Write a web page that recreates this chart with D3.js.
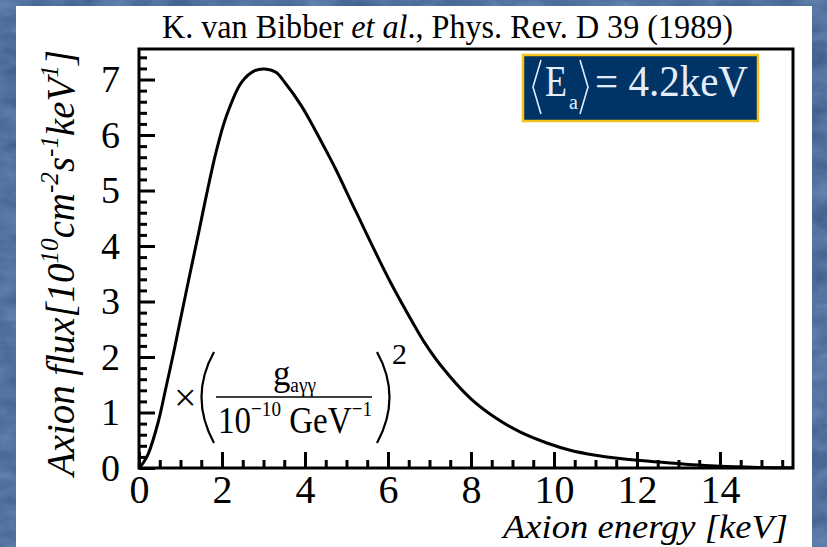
<!DOCTYPE html>
<html>
<head>
<meta charset="utf-8">
<script src="https://cdn.jsdelivr.net/npm/d3@7"></script>
<style>
  html, body { margin: 0; padding: 0; background: #54739e; }
  svg { display: block; }
</style>
</head>
<body>
<div id="chart"></div>
<script>
// Data (keV, 10^10 cm^-2 s^-1 keV^-1)
const energy = [0, 0.1, 0.22, 0.46, 0.65, 0.84, 1.0, 1.2, 1.46, 1.62, 1.86, 2.1, 2.47, 2.79, 3.03, 3.3, 3.51, 3.91, 4.23, 4.55, 4.75, 5.24, 6.05, 6.65, 6.89, 7.25, 7.98, 8.6, 9.18, 9.83, 10.39, 11.0, 11.59, 12.8, 14.0, 15.0, 15.76];
const flux = [0, 0.09, 0.25, 0.82, 1.45, 2.1, 2.68, 3.4, 4.32, 4.9, 5.7, 6.33, 6.95, 7.16, 7.19, 7.13, 6.95, 6.53, 6.11, 5.66, 5.37, 4.6, 3.36, 2.55, 2.25, 1.87, 1.26, 0.9, 0.65, 0.45, 0.32, 0.23, 0.17, 0.09, 0.03, 0.01, 0.005];
const xMajorTicks = [0, 2, 4, 6, 8, 10, 12, 14];
const yMajorTicks = [0, 1, 2, 3, 4, 5, 6, 7];

const width = 827;
const height = 547;
const frame = { left: 139, right: 793, top: 49, bottom: 468 };
const serif = '"Liberation Serif", "Times New Roman", serif';

const svg = d3
  .select('#chart')
  .append('svg')
  .attr('width', width)
  .attr('height', height);

// Slide background: textured blue
const defs = svg.append('defs');
const tex = defs
  .append('filter')
  .attr('id', 'tex')
  .attr('x', 0)
  .attr('y', 0)
  .attr('width', '100%')
  .attr('height', '100%')
  .attr('color-interpolation-filters', 'sRGB');
tex
  .append('feTurbulence')
  .attr('type', 'fractalNoise')
  .attr('baseFrequency', '0.03 0.06')
  .attr('numOctaves', 3)
  .attr('seed', 4);
tex
  .append('feColorMatrix')
  .attr('type', 'matrix')
  .attr('values', '0.2 0 0 0 0.22  0.2 0 0 0 0.35  0.2 0 0 0 0.52  0 0 0 0 1');

svg
  .append('rect')
  .attr('width', width)
  .attr('height', height)
  .attr('filter', 'url(#tex)');

// White panel
svg
  .append('rect')
  .attr('x', 16)
  .attr('y', 6)
  .attr('width', 796)
  .attr('height', height - 6)
  .attr('fill', '#ffffff');

// Scales
const x = d3.scaleLinear().domain([0, 15.76]).range([frame.left, frame.right]);
const y = d3.scaleLinear().domain([0, 7.55]).range([frame.bottom, frame.top]);

const xMinor = d3.range(0, 15.76, 0.5).filter((v) => v % 2 !== 0);
const yMinor = d3
  .range(0, 7.55, 0.2)
  .filter((v) => Math.abs(v - Math.round(v)) > 1e-6);

const styleAxis = (g) => {
  g.select('.domain').remove();
  g.selectAll('line').attr('stroke', '#000').attr('stroke-width', 3);
  g.selectAll('text')
    .attr('fill', '#000')
    .style('font-family', serif);
};

// X axis (ticks point inward)
svg
  .append('g')
  .attr('transform', `translate(0,${frame.bottom})`)
  .call(d3.axisBottom(x).tickValues(xMinor).tickSize(-8).tickFormat(''))
  .call(styleAxis);

svg
  .append('g')
  .attr('transform', `translate(0,${frame.bottom})`)
  .call(
    d3.axisBottom(x).tickValues(xMajorTicks).tickSize(-16).tickPadding(7).tickFormat(d3.format('d'))
  )
  .call(styleAxis)
  .call((g) => g.selectAll('text').style('font-size', '40px'));

// Y axis
svg
  .append('g')
  .attr('transform', `translate(${frame.left},0)`)
  .call(d3.axisLeft(y).tickValues(yMinor).tickSize(-8).tickFormat(''))
  .call(styleAxis);

svg
  .append('g')
  .attr('transform', `translate(${frame.left},0)`)
  .call(
    d3.axisLeft(y).tickValues(yMajorTicks).tickSize(-16).tickPadding(19).tickFormat(d3.format('d'))
  )
  .call(styleAxis)
  .call((g) => g.selectAll('text').style('font-size', '38px'));

// Curve
const line = d3
  .line()
  .x((d) => x(d[0]))
  .y((d) => y(d[1]))
  .curve(d3.curveCatmullRom.alpha(0.5));

svg
  .append('path')
  .datum(energy.map((e, i) => [e, flux[i]]))
  .attr('d', line)
  .attr('fill', 'none')
  .attr('stroke', '#000')
  .attr('stroke-width', 3);

// Frame
svg
  .append('rect')
  .attr('x', frame.left)
  .attr('y', frame.top)
  .attr('width', frame.right - frame.left)
  .attr('height', frame.bottom - frame.top)
  .attr('fill', 'none')
  .attr('stroke', '#000')
  .attr('stroke-width', 3);

// Title / reference
const title = svg
  .append('text')
  .attr('x', 162)
  .attr('y', 38)
  .attr('textLength', 571)
  .attr('lengthAdjust', 'spacingAndGlyphs')
  .style('font-family', serif)
  .style('font-size', '33px')
  .attr('fill', '#000');
title.append('tspan').text('K. van Bibber ');
title.append('tspan').style('font-style', 'italic').text('et al');
title.append('tspan').text('., Phys. Rev. D 39 (1989)');

// Y axis title
const yTitle = svg
  .append('text')
  .attr('transform', 'translate(74,263) rotate(-90)')
  .attr('x', -213)
  .attr('textLength', 426)
  .attr('lengthAdjust', 'spacingAndGlyphs')
  .style('font-family', serif)
  .style('font-style', 'italic')
  .style('font-size', '40px')
  .attr('fill', '#000');
const yParts = [
  ['Axion flux[10', false],
  ['10', true],
  ['cm', false],
  ['-2', true],
  ['s', false],
  ['-1', true],
  ['keV', false],
  ['1', true],
  [']', false],
];
let raised = false;
yParts.forEach(([t, sup]) => {
  const ts = yTitle.append('tspan').text(t);
  if (sup && !raised) ts.attr('dy', -16).style('font-size', '26px');
  else if (sup) ts.style('font-size', '26px');
  else if (raised) ts.attr('dy', 16);
  raised = sup;
});

// X axis title
svg
  .append('text')
  .attr('x', 503)
  .attr('y', 538)
  .attr('textLength', 285)
  .attr('lengthAdjust', 'spacingAndGlyphs')
  .style('font-family', serif)
  .style('font-style', 'italic')
  .style('font-size', '34px')
  .attr('fill', '#000')
  .text('Axion energy [keV]');

// Mean energy box
const box = svg.append('g');
box
  .append('rect')
  .attr('x', 523)
  .attr('y', 55)
  .attr('width', 235)
  .attr('height', 66)
  .attr('fill', '#003366')
  .attr('stroke', '#f2c31b')
  .attr('stroke-width', 2.5);
box
  .append('path')
  .attr('d', 'M541,60 L533,87 L541,114 M580,60 L588,87 L580,114')
  .attr('fill', 'none')
  .attr('stroke', '#e4eefa')
  .attr('stroke-width', 1.6);
box
  .append('text')
  .attr('x', 545)
  .attr('y', 96)
  .attr('textLength', 22)
  .attr('lengthAdjust', 'spacingAndGlyphs')
  .style('font-family', serif)
  .style('font-size', '44px')
  .attr('fill', '#e4eefa')
  .text('E');
box
  .append('text')
  .attr('x', 569)
  .attr('y', 109)
  .style('font-family', serif)
  .style('font-size', '20px')
  .attr('fill', '#e4eefa')
  .text('a');
box
  .append('text')
  .attr('x', 595)
  .attr('y', 96)
  .attr('textLength', 153)
  .attr('lengthAdjust', 'spacingAndGlyphs')
  .style('font-family', serif)
  .style('font-size', '44px')
  .attr('fill', '#e4eefa')
  .text('= 4.2keV');

// Coupling factor annotation
const note = svg.append('g').style('font-family', serif).attr('fill', '#000');
note.append('text').attr('x', 174).attr('y', 411).style('font-size', '40px').text('×');
note
  .append('path')
  .attr('d', 'M214,352 Q189,397 214,443 M377,352 Q402,397 377,443')
  .attr('fill', 'none')
  .attr('stroke', '#000')
  .attr('stroke-width', 2.2);
note
  .append('path')
  .attr('d', 'M216,397 H372')
  .attr('stroke', '#000')
  .attr('stroke-width', 1.5);
const num = note
  .append('text')
  .attr('x', 273)
  .attr('y', 385)
  .attr('textLength', 43)
  .attr('lengthAdjust', 'spacingAndGlyphs')
  .style('font-size', '36px');
num.append('tspan').text('g');
num.append('tspan').attr('dy', 7).style('font-size', '20px').text('aγγ');
const den = note
  .append('text')
  .attr('x', 218)
  .attr('y', 433)
  .attr('textLength', 154)
  .attr('lengthAdjust', 'spacingAndGlyphs')
  .style('font-size', '38px');
den.append('tspan').text('10');
den.append('tspan').attr('dy', -17).style('font-size', '22px').text('−10');
den.append('tspan').attr('dy', 17).text(' GeV');
den.append('tspan').attr('dy', -17).style('font-size', '22px').text('−1');
note.append('text').attr('x', 392).attr('y', 364).style('font-size', '30px').text('2');
</script>
</body>
</html>
